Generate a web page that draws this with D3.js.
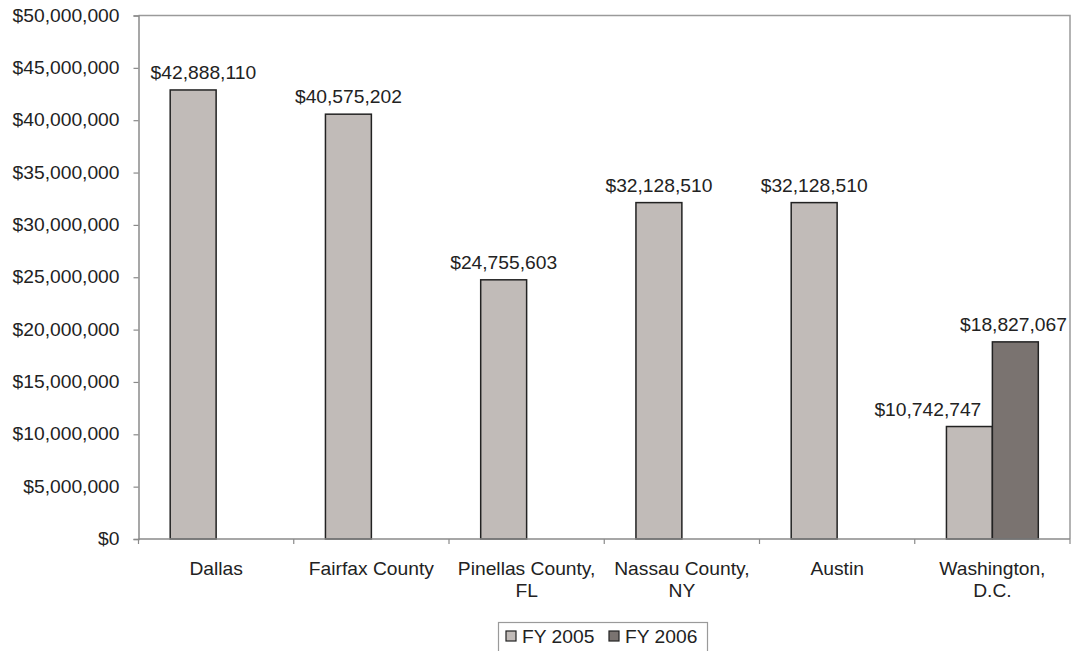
<!DOCTYPE html>
<html>
<head>
<meta charset="utf-8">
<script src="https://cdn.jsdelivr.net/npm/d3@7"></script>
<style>
  html, body { margin: 0; padding: 0; background: #fff; }
  svg { display: block; font-family: "Liberation Sans", Arial, sans-serif; }
</style>
</head>
<body>
<svg id="chart" width="1081" height="651"></svg>
<script>
// Budget by jurisdiction, FY 2005 and FY 2006
const categories = [
  ["Dallas"],
  ["Fairfax County"],
  ["Pinellas County,", "FL"],
  ["Nassau County,", "NY"],
  ["Austin"],
  ["Washington,", "D.C."]
];
const seriesNames = ["FY 2005", "FY 2006"];
const fy2005 = [42888110, 40575202, 24755603, 32128510, 32128510, 10742747];
const fy2006 = [null, null, null, null, null, 18827067];
const yTicks = [0, 5e6, 10e6, 15e6, 20e6, 25e6, 30e6, 35e6, 40e6, 45e6, 50e6];

const colors = ["#c1bbb8", "#7a7370"];
const W = 1081, H = 651;
const margin = { left: 138.5, right: 11, top: 15.5, bottom: 112 };
const FS = 17.5, STRETCH = 1.1;   // slightly wide sans text

const svg = d3.select("#chart");
const x = d3.scaleBand()
  .domain(d3.range(categories.length))
  .range([margin.left, W - margin.right])
  .paddingInner(0).paddingOuter(0);
const inner = d3.scaleBand()
  .domain([0, 1])
  .range([0, x.bandwidth()])
  .paddingInner(0)
  .paddingOuter(0.69);
const y = d3.scaleLinear().domain([0, 50e6]).range([H - margin.bottom, margin.top]);

const fmt = v => "$" + d3.format(",")(v);

// text placed at (tx, ty) and widened horizontally
function label(g, tx, ty, str, anchor) {
  return g.append("text")
    .attr("transform", `translate(${tx},${ty}) scale(${STRETCH},1)`)
    .attr("text-anchor", anchor || "middle")
    .attr("fill", "#222")
    .style("font-size", FS + "px")
    .text(str);
}
function textWidth(str) {
  const t = svg.append("text").style("font-size", FS + "px").text(str);
  const w = t.node().getComputedTextLength() * STRETCH;
  t.remove();
  return w;
}

// plot frame (top and right edges)
svg.append("path")
  .attr("d", `M${margin.left},${margin.top}H${W - margin.right}V${H - margin.bottom}`)
  .attr("fill", "none").attr("stroke", "#9a9a9a").attr("stroke-width", 1.5);

// y axis
const yAxis = svg.append("g")
  .attr("transform", `translate(${margin.left},0)`)
  .call(d3.axisLeft(y).tickValues(yTicks).tickSize(5).tickFormat(""));
yAxis.select(".domain").attr("stroke", "#8a8a8a").attr("stroke-width", 1.5);
yAxis.selectAll(".tick line").attr("stroke", "#8a8a8a").attr("stroke-width", 1.2);
yAxis.selectAll(".tick text").remove();
const yLab = svg.append("g");
yTicks.forEach(v => label(yLab, margin.left - 19, y(v) + 6, fmt(v), "end"));

// bars
const series = [fy2005, fy2006];
const bars = [];
series.forEach((vals, s) => {
  vals.forEach((v, i) => {
    if (v == null) return;
    bars.push({ s, i, v });
  });
});

svg.append("g").selectAll("rect").data(bars).join("rect")
  .attr("x", d => x(d.i) + inner(d.s))
  .attr("width", inner.bandwidth())
  .attr("y", d => y(d.v))
  .attr("height", d => y(0) - y(d.v))
  .attr("fill", d => colors[d.s])
  .attr("stroke", "#222").attr("stroke-width", 1.5);

// x axis with ticks between categories
const baseY = y(0);
svg.append("line")
  .attr("x1", margin.left).attr("x2", W - margin.right)
  .attr("y1", baseY).attr("y2", baseY)
  .attr("stroke", "#8a8a8a").attr("stroke-width", 1.5);
svg.append("g").selectAll("line")
  .data(d3.range(categories.length + 1))
  .join("line")
  .attr("x1", i => margin.left + i * x.step())
  .attr("x2", i => margin.left + i * x.step())
  .attr("y1", baseY).attr("y2", baseY + 5)
  .attr("stroke", "#8a8a8a").attr("stroke-width", 1.2);

// category labels
const catG = svg.append("g");
categories.forEach((lines, i) => {
  lines.forEach((ln, k) => label(catG, x(i) + x.bandwidth() / 2, baseY + 36 + k * 22, ln));
});

// value labels above bars; kept clear of the frame and of a neighbouring label
const labelG = svg.append("g");
bars.forEach(d => {
  const cx = x(d.i) + inner(d.s) + inner.bandwidth() / 2;
  const str = fmt(d.v);
  const w = textWidth(str);
  const pair = series.every(sv => sv[d.i] != null);
  let lx = Math.max(cx, margin.left + 12 + w / 2);
  if (pair && d.s === 0) lx = x(d.i) + inner(1) - 11 - w / 2;
  if (pair && d.s === 1) lx = Math.min(cx, W - margin.right - 3 - w / 2);
  label(labelG, lx, y(d.v) - 11, str);
});

// legend
const legend = svg.append("g");
legend.append("rect")
  .attr("x", 498.5).attr("y", 622.5).attr("width", 209).attr("height", 40)
  .attr("fill", "#fff").attr("stroke", "#9a9a9a").attr("stroke-width", 1.2);
const legendX = [506, 609];
seriesNames.forEach((name, s) => {
  legend.append("rect")
    .attr("x", legendX[s]).attr("y", 631).attr("width", 10).attr("height", 10)
    .attr("fill", colors[s]).attr("stroke", "#222").attr("stroke-width", 1.2);
  label(legend, legendX[s] + 16, 643, name, "start");
});
</script>
</body>
</html>
